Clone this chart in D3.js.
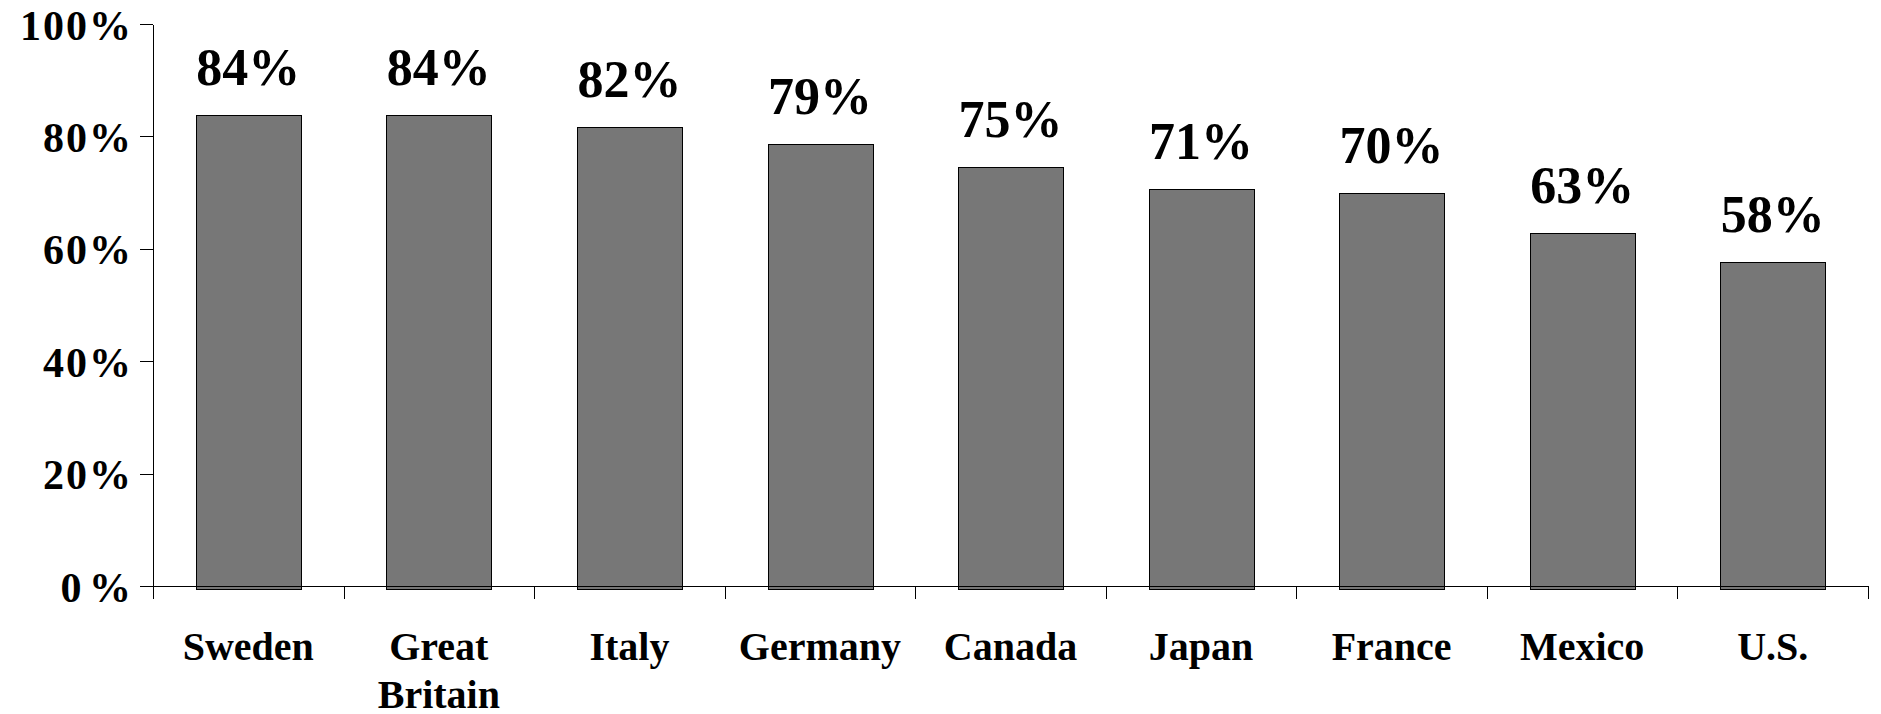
<!DOCTYPE html>
<html>
<head>
<meta charset="utf-8">
<script src="https://cdn.jsdelivr.net/npm/d3@7"></script>
<style>
	body { margin: 0; background: #ffffff; }
	svg text { font-family: "Liberation Serif", "Times New Roman", serif; font-weight: bold; fill: #000; }
	.axis path, .axis line { stroke: #000; stroke-width: 1px; shape-rendering: crispEdges; }
	.bar { fill: #777777; stroke: #000; stroke-width: 1px; shape-rendering: crispEdges; }
</style>
</head>
<body>
<svg id="bar-chart"></svg>
<script>
var countries = ["Sweden", "Great Britain", "Italy", "Germany", "Canada", "Japan", "France", "Mexico", "U.S."];
var shares = [83.8, 83.8, 81.6, 78.7, 74.6, 70.6, 70.0, 62.9, 57.7];
var yTicks = [0, 20, 40, 60, 80, 100];
var yTickLabels = ["0\u200A%", "20%", "40%", "60%", "80%", "100%"];

var drawBarChart = function (el) {
	var W = 1881, H = 714;
	var margin = {top: 24, right: 13, bottom: 128, left: 153},
			width = W - margin.left - margin.right,
			height = H - margin.top - margin.bottom;

	var svg = d3.select("svg#" + el)
			.attr("width", W)
			.attr("height", H)
			.append("g")
			.attr("transform", "translate(" + margin.left + "," + margin.top + ")");

	// set the ranges
	var x = d3.scaleBand()
			.domain(countries)
			.range([0, width])
			.paddingInner(0.45)
			.paddingOuter(0.225);

	var y = d3.scaleLinear()
			.domain([0, 100])
			.range([height, 0]);

	var data = countries.map(function (c, i) {
		return {country: c, val: shares[i]};
	});

	//Bars
	svg.selectAll(".bar")
			.data(data)
			.enter().append("rect")
			.attr("class", "bar")
			.attr("x", function (d) { return Math.round(x(d.country)) + 0.5; })
			.attr("width", Math.round(x.bandwidth()))
			.attr("y", function (d) { return Math.round(y(d.val)) + 0.5; })
			.attr("height", function (d) { return height - Math.round(y(d.val)) + 3; });

	//y axis
	var gy = svg.append("g")
			.attr("class", "axis y")
			.call(d3.axisLeft(y)
					.tickValues(yTicks)
					.tickSizeInner(13)
					.tickSizeOuter(0)
					.tickPadding(7)
					.tickFormat(function (d, i) { return yTickLabels[i]; }));
	gy.selectAll("text")
			.style("font-size", "42px")
			.style("letter-spacing", "2px")
			.attr("dy", "0.36em");

	//x axis with ticks at the category boundaries
	var gx = svg.append("g")
			.attr("class", "axis x")
			.attr("transform", "translate(0," + height + ")");
	gx.append("line")
			.attr("x1", -13).attr("x2", width)
			.attr("y1", 0.5).attr("y2", 0.5);
	gx.selectAll(".tick-b")
			.data(d3.range(countries.length + 1))
			.enter().append("line")
			.attr("class", "tick-b")
			.attr("x1", function (i) { return Math.round(i * width / countries.length) + 0.5; })
			.attr("x2", function (i) { return Math.round(i * width / countries.length) + 0.5; })
			.attr("y1", 0)
			.attr("y2", 13);

	//category labels, wrapped on spaces of two-word names
	var lbl = gx.selectAll(".cat")
			.data(data)
			.enter().append("text")
			.attr("class", "cat")
			.attr("text-anchor", "middle")
			.style("font-size", "40px")
			.attr("transform", function (d) {
				return "translate(" + (x(d.country) + x.bandwidth() / 2) + ",74)";
			});
	lbl.selectAll("tspan")
			.data(function (d) { return d.country.indexOf(" ") > 0 && d.country.indexOf(".") < 0 ? d.country.split(" ") : [d.country]; })
			.enter().append("tspan")
			.attr("x", 0)
			.attr("dy", function (d, i) { return i === 0 ? 0 : 48; })
			.text(function (d) { return d; });

	//Bar Labels
	svg.selectAll(".bar-label")
			.data(data)
			.enter().append("text")
			.attr("class", "bar-label")
			.attr("text-anchor", "middle")
			.attr("x", function (d) { return x(d.country) + x.bandwidth() / 2; })
			.attr("y", function (d) { return y(d.val) - 30; })
			.style("font-size", "52px")
			.text(function (d) { return d3.format(".0f")(d.val) + "%"; });
};

drawBarChart("bar-chart");
</script>
</body>
</html>
